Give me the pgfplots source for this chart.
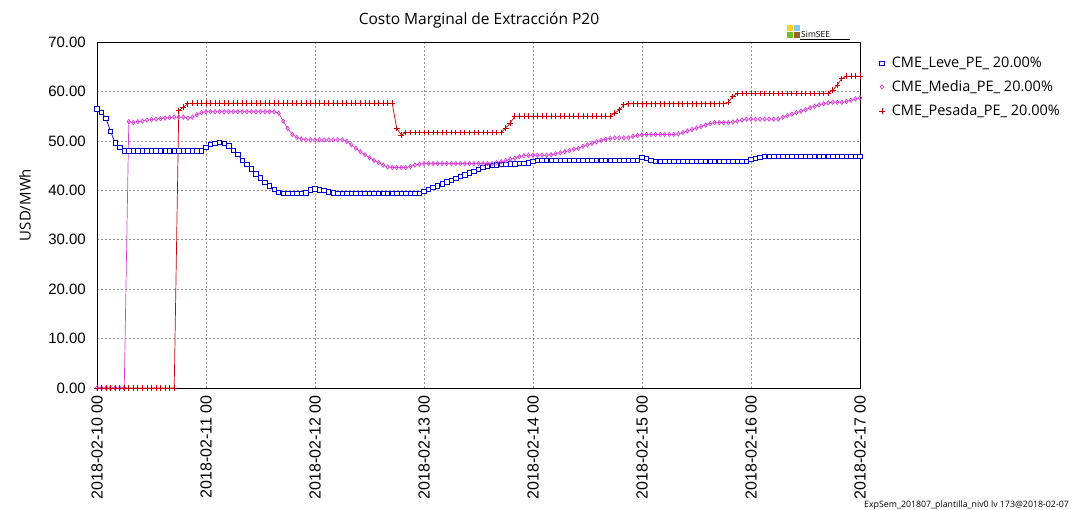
\documentclass[border=0pt]{standalone}
\usepackage{fontspec}
\setmainfont{Liberation Sans}
\newfontfamily\segoe{Open Sans}
\usepackage{pgfplots}
\usepackage{pgfplotstable}
\pgfplotsset{compat=1.18}
\definecolor{cblue}{RGB}{0,0,200}
\definecolor{cmag}{RGB}{220,60,220}
\definecolor{cred}{RGB}{200,0,0}
\definecolor{cgrid}{RGB}{150,150,150}
\definecolor{lyel}{RGB}{255,205,40}
\definecolor{lblu}{RGB}{130,200,240}
\definecolor{lgrn}{RGB}{110,190,40}
\definecolor{lbrn}{RGB}{150,100,30}

\pgfplotstableread{
h L M P
0 56.5 0 0
1 55.7 0 0
2 54.5 0 0
3 51.9 0 0
4 49.6 0 0
5 48.7 0 0
6 48.0 0 0
7 48.0 53.9 0
8 48.0 53.7 0
9 48.0 53.9 0
10 48.0 54.0 0
11 48.0 54.2 0
12 48.0 54.3 0
13 48.0 54.4 0
14 48.0 54.5 0
15 48.0 54.6 0
16 48.0 54.7 0
17 48.0 54.8 0
18 48.0 54.8 56.1
19 48.0 54.8 56.8
20 48.0 54.6 57.5
21 48.0 54.8 57.6
22 48.0 55.3 57.6
23 48.0 55.7 57.6
24 48.7 55.9 57.6
25 49.3 55.9 57.6
26 49.5 55.9 57.6
27 49.7 55.9 57.6
28 49.5 55.9 57.6
29 49.0 55.9 57.6
30 48.1 55.9 57.6
31 47.2 55.9 57.6
32 46.1 55.9 57.6
33 45.2 55.9 57.6
34 44.3 55.9 57.6
35 43.3 55.9 57.6
36 42.5 55.9 57.6
37 41.6 55.9 57.6
38 40.9 55.9 57.6
39 40.2 55.9 57.6
40 39.6 55.6 57.6
41 39.4 54.0 57.6
42 39.4 52.5 57.6
43 39.4 51.3 57.6
44 39.4 50.7 57.6
45 39.4 50.4 57.6
46 39.5 50.2 57.6
47 40.1 50.2 57.6
48 40.3 50.2 57.6
49 40.1 50.2 57.6
50 40.0 50.2 57.6
51 39.7 50.2 57.6
52 39.5 50.2 57.6
53 39.4 50.2 57.6
54 39.4 50.2 57.6
55 39.4 49.9 57.6
56 39.4 49.2 57.6
57 39.4 48.5 57.6
58 39.4 47.8 57.6
59 39.4 47.2 57.6
60 39.4 46.6 57.6
61 39.4 46.0 57.6
62 39.4 45.6 57.6
63 39.4 45.1 57.6
64 39.4 44.7 57.6
65 39.4 44.6 57.6
66 39.4 44.6 52.5
67 39.4 44.6 51.2
68 39.4 44.6 51.7
69 39.4 44.8 51.7
70 39.4 45.1 51.7
71 39.4 45.3 51.7
72 39.8 45.4 51.7
73 40.2 45.4 51.7
74 40.6 45.4 51.7
75 40.9 45.4 51.7
76 41.3 45.4 51.7
77 41.7 45.4 51.7
78 42.0 45.4 51.7
79 42.4 45.4 51.7
80 42.8 45.4 51.7
81 43.1 45.4 51.7
82 43.5 45.4 51.7
83 43.8 45.4 51.7
84 44.2 45.4 51.7
85 44.6 45.4 51.7
86 44.8 45.4 51.7
87 45.0 45.4 51.7
88 45.1 45.6 51.7
89 45.2 45.8 51.7
90 45.2 46.0 52.6
91 45.3 46.3 53.6
92 45.3 46.5 55.0
93 45.4 46.8 55.0
94 45.4 47.0 55.0
95 45.5 47.1 55.0
96 45.9 47.1 55.0
97 46.1 47.1 55.0
98 46.1 47.1 55.0
99 46.1 47.1 55.0
100 46.1 47.2 55.0
101 46.1 47.4 55.0
102 46.1 47.6 55.0
103 46.1 47.8 55.0
104 46.1 48.0 55.0
105 46.1 48.3 55.0
106 46.1 48.5 55.0
107 46.1 48.9 55.0
108 46.1 49.2 55.0
109 46.1 49.5 55.0
110 46.1 49.8 55.0
111 46.1 50.1 55.0
112 46.1 50.3 55.0
113 46.1 50.5 55.0
114 46.1 50.6 55.6
115 46.1 50.6 56.3
116 46.1 50.6 57.3
117 46.1 50.6 57.5
118 46.1 50.9 57.5
119 46.1 51.1 57.5
120 46.6 51.2 57.5
121 46.4 51.3 57.5
122 46.1 51.3 57.5
123 45.9 51.3 57.5
124 45.9 51.3 57.5
125 45.9 51.3 57.5
126 45.9 51.3 57.5
127 45.9 51.3 57.5
128 45.9 51.4 57.5
129 45.9 51.7 57.5
130 45.9 52.0 57.5
131 45.9 52.3 57.5
132 45.9 52.6 57.5
133 45.9 52.9 57.5
134 45.9 53.2 57.5
135 45.9 53.5 57.5
136 45.9 53.7 57.5
137 45.9 53.7 57.5
138 45.9 53.7 57.5
139 45.9 53.7 57.8
140 45.9 53.8 59.0
141 45.9 54.0 59.6
142 45.9 54.2 59.6
143 45.9 54.4 59.6
144 46.3 54.4 59.6
145 46.5 54.4 59.6
146 46.7 54.4 59.6
147 46.8 54.4 59.6
148 46.9 54.4 59.6
149 46.9 54.4 59.6
150 46.9 54.4 59.6
151 46.9 54.8 59.6
152 46.9 55.1 59.6
153 46.9 55.4 59.6
154 46.9 55.7 59.6
155 46.9 56.0 59.6
156 46.9 56.3 59.6
157 46.9 56.7 59.6
158 46.9 57.0 59.6
159 46.9 57.3 59.6
160 46.9 57.5 59.6
161 46.9 57.7 59.6
162 46.9 57.8 60.3
163 46.9 57.8 61.3
164 46.9 57.8 62.6
165 46.9 58.0 63.1
166 46.9 58.2 63.1
167 46.9 58.5 63.1
168 46.9 58.7 63.1
}\data

\begin{document}
\begin{tikzpicture}[x=1pt,y=1pt]
\useasboundingbox (0,0) rectangle (1083,510);
\begin{axis}[
  at={(97pt,122pt)}, anchor=south west,
  scale only axis, width=763pt, height=346pt,
  xmin=0, xmax=168, ymin=0, ymax=70,
  xtick={0,24,...,168},
  xticklabels={2018-02-10 00,2018-02-11 00,2018-02-12 00,2018-02-13 00,2018-02-14 00,2018-02-15 00,2018-02-16 00,2018-02-17 00},
  xticklabel style={rotate=90, anchor=east, inner sep=0pt, font=\fontsize{16}{16}\selectfont},
  xticklabel shift=7pt,
  ytick={0,10,...,70},
  /pgf/number format/assume math mode=true,
  yticklabel style={/pgf/number format/.cd, fixed, fixed zerofill, precision=2, /tikz/.cd, inner sep=0pt, xshift=-11pt, font=\fontsize{15}{15}\selectfont},
  grid=major,
  major grid style={cgrid, dash pattern=on 2pt off 2pt, line width=0.6pt},
  major tick length=0pt,
  axis line style={black, line width=0.8pt},
  legend style={at={(axis description cs:1,1)}, anchor=north west, xshift=16pt, yshift=-12pt,
    draw=none, fill=none, font=\segoe\fontsize{14.5}{14.5}\selectfont, row sep=9.5pt,
    nodes={inner sep=1pt},
    /tikz/every odd column/.append style={column sep=6pt}},
  legend cell align=left,
  legend image code/.code={\draw[#1] plot[only marks] coordinates {(4pt,0pt)};},
]
\addplot[cblue, line width=0.7pt, mark=square*, mark size=2.2pt, mark options={fill=white, draw=cblue, line width=0.8pt}] table[x=h,y=L] {\data};
\addlegendentry{CME\_Leve\_PE\_ 20.00\%}
\addplot[cmag, line width=0.7pt, mark=diamond, mark size=2.2pt, mark options={line width=0.7pt}] table[x=h,y=M] {\data};
\addlegendentry{CME\_Media\_PE\_ 20.00\%}
\addplot[cred, line width=0.7pt, mark=+, mark size=2.8pt, mark options={line width=0.8pt}] table[x=h,y=P] {\data};
\addlegendentry{CME\_Pesada\_PE\_ 20.00\%}
\end{axis}
\node[font=\segoe\fontsize{15.5}{15.5}\selectfont] at (479,490) {Costo Marginal de Extracción P20};
\node[rotate=90, font=\segoe\fontsize{15}{15}\selectfont] at (25,305) {USD/MWh};
% SimSEE logo
\fill[lyel] (787,479) rectangle (793,485);
\fill[lblu] (794,479) rectangle (800,485);
\fill[lgrn] (787,472) rectangle (793,478);
\fill[lbrn] (794,472) rectangle (800,478);
\node[anchor=base west, inner sep=0pt, font=\segoe\fontsize{8.5}{8.5}\selectfont] at (801,472.5) {SimSEE};
\draw[black, line width=0.6pt] (800,470.5) -- (850,470.5);
\node[anchor=base west, inner sep=0pt, font=\segoe\fontsize{8.8}{8.8}\selectfont] at (864,2) {ExpSem\_201807\_plantilla\_niv0 lv 173@2018-02-07};
\end{tikzpicture}
\end{document}
